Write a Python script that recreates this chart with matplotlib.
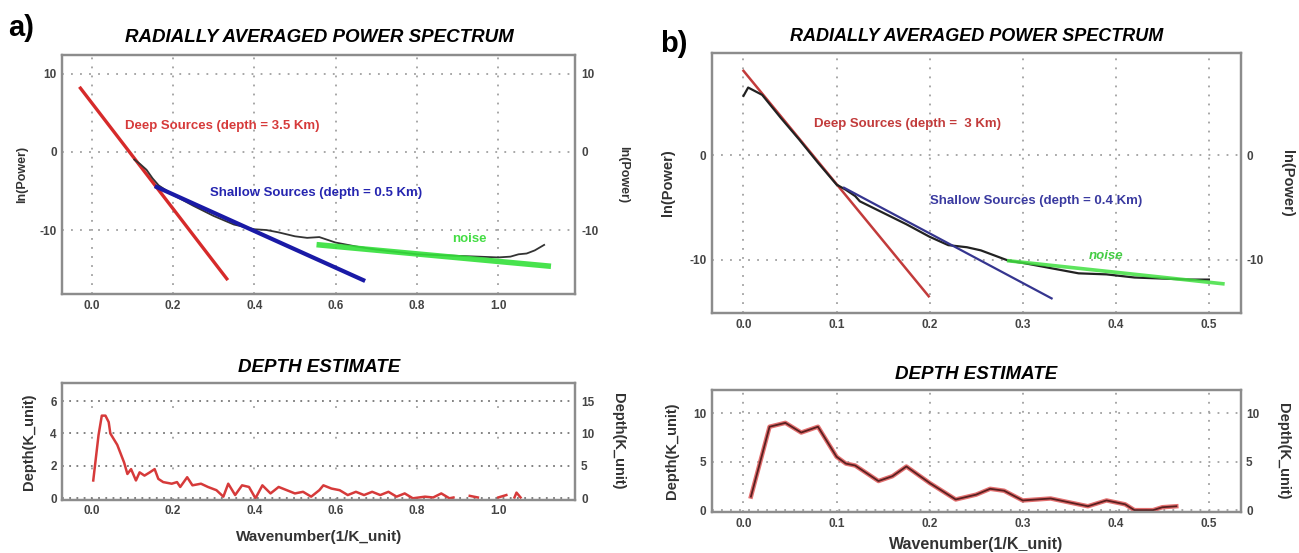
import numpy as np
import matplotlib
matplotlib.use("Agg")
import matplotlib.pyplot as plt

plt.rcParams['font.family'] = ['Liberation Sans', 'DejaVu Sans']
plt.rcParams['font.weight'] = 'bold'

# ---------------- data: panel a ----------------
a_obs_k = [0.105, 0.12, 0.135, 0.15, 0.165, 0.2, 0.25, 0.3, 0.35, 0.4, 0.43, 0.46, 0.5,
           0.53, 0.56, 0.6, 0.65, 0.7, 0.75, 0.8, 0.85, 0.9, 0.95, 1.0, 1.03, 1.05,
           1.07, 1.09, 1.113]
a_obs_p = [-1.0, -1.6, -2.3, -3.4, -4.3, -5.5, -6.9, -8.2, -9.3, -9.9, -10.0, -10.3, -10.8,
           -11.0, -10.9, -11.6, -12.1, -12.5, -12.8, -13.1, -13.2, -13.3, -13.4, -13.5,
           -13.4, -13.1, -13.0, -12.6, -11.9]
a_deep_k = [-0.03, 0.335]
a_deep_p = [8.3, -16.4]
a_shallow_k = [0.16, 0.668]
a_shallow_p = [-4.5, -16.4]
a_noise_k = [0.56, 1.123]
a_noise_p = [-11.9, -14.6]

a_depth_k = [0.004, 0.017, 0.025, 0.034, 0.042, 0.046, 0.063, 0.08, 0.088, 0.097, 0.109,
             0.118, 0.13, 0.143, 0.155, 0.164, 0.176, 0.197, 0.21, 0.218, 0.235, 0.248,
             0.269, 0.286, 0.307, 0.324, 0.336, 0.353, 0.37, 0.387, 0.403, 0.42, 0.44,
             0.46, 0.48, 0.5, 0.52, 0.54, 0.56, 0.57, 0.59, 0.61, 0.63, 0.65, 0.67, 0.69,
             0.71, 0.73, 0.75, 0.77, 0.79, 0.82, 0.84, 0.86, 0.88, 0.89, 0.90,
             0.93, 0.95, 0.96, 1.0, 1.02, 1.03, 1.04, 1.045, 1.055]
a_depth_d = [1.1, 3.9, 5.1, 5.1, 4.7, 4.0, 3.3, 2.2, 1.5, 1.8, 1.1,
             1.6, 1.4, 1.6, 1.8, 1.2, 1.0, 0.9, 1.0, 0.7, 1.3, 0.8,
             0.9, 0.7, 0.5, 0.1, 0.9, 0.2, 0.8, 0.7, 0.0, 0.8, 0.3,
             0.7, 0.5, 0.3, 0.4, 0.1, 0.5, 0.8, 0.6, 0.5, 0.2, 0.4, 0.2, 0.4,
             0.2, 0.4, 0.1, 0.3, 0.0, 0.1, 0.05, 0.3, 0.0, 0.05, np.nan,
             0.15, 0.05, np.nan, 0.05, 0.2, np.nan, 0.05, 0.35, 0.05]

# ---------------- data: panel b ----------------
b_obs_k = [0.0, 0.005, 0.02, 0.04, 0.06, 0.08, 0.1, 0.11, 0.12, 0.125, 0.15, 0.175, 0.2,
           0.22, 0.24, 0.255, 0.27, 0.285, 0.3, 0.33, 0.36, 0.39, 0.42, 0.45, 0.48, 0.5]
b_obs_p = [5.7, 6.5, 5.8, 3.6, 1.5, -0.7, -2.8, -3.3, -3.9, -4.4, -5.5, -6.6, -7.8,
           -8.6, -8.8, -9.1, -9.6, -10.1, -10.3, -10.8, -11.3, -11.4, -11.7, -11.8,
           -11.9, -11.9]
b_deep_k = [0.0, 0.199]
b_deep_p = [8.1, -13.5]
b_shallow_k = [0.108, 0.331]
b_shallow_p = [-3.1, -13.7]
b_noise_k = [0.285, 0.515]
b_noise_p = [-10.1, -12.3]

b_depth_k = [0.008, 0.028, 0.045, 0.062, 0.08, 0.1, 0.11, 0.12, 0.145, 0.16, 0.175, 0.2,
             0.228, 0.25, 0.265, 0.28, 0.3, 0.33, 0.35, 0.37, 0.39, 0.41, 0.42, 0.44,
             0.45, 0.465]
b_depth_d = [1.4, 8.6, 9.0, 8.0, 8.6, 5.5, 4.8, 4.6, 3.0, 3.5, 4.5, 2.8,
             1.1, 1.6, 2.2, 2.0, 1.0, 1.2, 0.8, 0.4, 1.0, 0.6, 0.0, 0.0,
             0.3, 0.4]

# ---------------- styling helpers ----------------
SPINE = '#8c8c8c'
TICK = '#444444'
GRID = '#a0a0a0'
LABEL = '#333333'


def style(ax):
    for s in ax.spines.values():
        s.set_color(SPINE)
        s.set_linewidth(1.6)
    ax.tick_params(length=0, labelsize=8.5, labelcolor=TICK, pad=4)
    for lab in ax.get_xticklabels() + ax.get_yticklabels():
        lab.set_fontweight('bold')


def grid(ax, xdots=(0, (1, 4)), ydots=(0, (1, 4)), ycol=GRID):
    ax.xaxis.grid(True, color=GRID, linestyle=xdots, linewidth=1.3)
    ax.yaxis.grid(True, color=ycol, linestyle=ydots, linewidth=1.3)
    ax.set_axisbelow(True)


def right_axis(ax, ticks, labels, label, size, scale=1.0):
    r = ax.twinx()
    lo, hi = ax.get_ylim()
    r.set_ylim(lo * scale, hi * scale)
    r.set_yticks(ticks)
    r.set_yticklabels(labels)
    style(r)
    r.set_ylabel(label, rotation=270, labelpad=22, fontsize=size, color=LABEL,
                 fontweight='bold')
    return r


fig = plt.figure(figsize=(12.99, 5.53), dpi=100)

# ================= panel a, spectrum =================
ax1 = fig.add_axes([0.048, 0.468, 0.395, 0.433])
ax1.plot(a_deep_k, a_deep_p, color='#d62a2a', lw=2.4, solid_capstyle='butt')
ax1.plot(a_obs_k, a_obs_p, color='#333333', lw=1.3)
ax1.plot(a_shallow_k, a_shallow_p, color='#1a1aa6', lw=3.0)
ax1.plot(a_noise_k, a_noise_p, color='#33e03a', lw=4.0, alpha=0.9)
ax1.set_xlim(-0.072, 1.19)
ax1.set_ylim(-18.2, 12.4)
ax1.set_xticks([0.0, 0.2, 0.4, 0.6, 0.8, 1.0])
ax1.set_xticklabels(['0.0', '0.2', '0.4', '0.6', '0.8', '1.0'])
ax1.set_yticks([-10, 0, 10])
ax1.set_yticklabels(['-10', '0', '10'])
grid(ax1)
style(ax1)
ax1.set_ylabel('ln(Power)', fontsize=9, color=LABEL, fontweight='bold', labelpad=8)
right_axis(ax1, [-10, 0, 10], ['-10', '0', '10'], 'ln(Power)', 9)
ax1.text(0.082, 3.3, 'Deep Sources (depth = 3.5 Km)', color='#d63a3a', fontsize=9.5,
         fontweight='bold', va='center')
ax1.text(0.29, -5.3, 'Shallow Sources (depth = 0.5 Km)', color='#2525b0', fontsize=9.5,
         fontweight='bold', va='center')
ax1.text(0.887, -11.2, 'noise', color='#44dd44', fontsize=9.5, fontweight='bold',
         va='center')
ax1.set_title('RADIALLY AVERAGED POWER SPECTRUM', fontsize=13.5, fontweight='bold',
              style='italic', pad=9)

# ================= panel a, depth =================
ax2 = fig.add_axes([0.048, 0.096, 0.395, 0.211])
ax2.plot(a_depth_k, a_depth_d, color='#d63a3a', lw=1.8)
ax2.set_xlim(-0.072, 1.19)
ax2.set_ylim(-0.1, 7.1)
ax2.set_xticks([0.0, 0.2, 0.4, 0.6, 0.8, 1.0])
ax2.set_xticklabels(['0.0', '0.2', '0.4', '0.6', '0.8', '1.0'])
ax2.set_yticks([0, 2, 4, 6])
ax2.set_yticklabels(['0', '2', '4', '6'])
grid(ax2, xdots=(0, (1, 16)), ydots=(0, (1, 3)), ycol='#777777')
style(ax2)
ax2.set_ylabel('Depth(K_unit)', fontsize=10.5, color=LABEL, fontweight='bold',
               labelpad=10)
ax2.set_xlabel('Wavenumber(1/K_unit)', fontsize=11, color=LABEL,
               fontweight='bold', labelpad=9)
right_axis(ax2, [0, 5, 10, 15], ['0', '5', '10', '15'], 'Depth(K_unit)', 10.5,
           scale=2.5)
ax2.set_title('DEPTH ESTIMATE', fontsize=13.5, fontweight='bold', style='italic', pad=8)

# ================= panel b, spectrum =================
ax3 = fig.add_axes([0.548, 0.434, 0.407, 0.470])
ax3.plot(b_deep_k, b_deep_p, color='#c23b3b', lw=1.8)
ax3.plot(b_obs_k, b_obs_p, color='#222222', lw=1.6)
ax3.plot(b_shallow_k, b_shallow_p, color='#35358f', lw=1.6)
ax3.plot(b_noise_k, b_noise_p, color='#40e040', lw=2.6, alpha=0.85)
ax3.set_xlim(-0.034, 0.534)
ax3.set_ylim(-15.1, 9.8)
ax3.set_xticks([0.0, 0.1, 0.2, 0.3, 0.4, 0.5])
ax3.set_xticklabels(['0.0', '0.1', '0.2', '0.3', '0.4', '0.5'])
ax3.set_yticks([-10, 0])
ax3.set_yticklabels(['-10', '0'])
grid(ax3)
style(ax3)
ax3.set_ylabel('ln(Power)', fontsize=10.5, color=LABEL, fontweight='bold', labelpad=10)
right_axis(ax3, [-10, 0], ['-10', '0'], 'ln(Power)', 10.5)
ax3.text(0.076, 3.0, 'Deep Sources (depth =  3 Km)', color='#c23b3b', fontsize=9.5,
         fontweight='bold', va='center')
ax3.text(0.2, -4.4, 'Shallow Sources (depth = 0.4 Km)', color='#3a3aa0', fontsize=9.5,
         fontweight='bold', va='center')
ax3.text(0.371, -9.6, 'noise', color='#44cc44', fontsize=9.5, fontweight='bold',
         style='italic', va='center')
ax3.set_title('RADIALLY AVERAGED POWER SPECTRUM', fontsize=13, fontweight='bold',
              style='italic', pad=9)

# ================= panel b, depth =================
ax4 = fig.add_axes([0.548, 0.074, 0.407, 0.221])
ax4.plot(b_depth_k, b_depth_d, color='#e06060', lw=3.2, alpha=0.9)
ax4.plot(b_depth_k, b_depth_d, color='#5a2020', lw=1.3)
ax4.set_xlim(-0.034, 0.534)
ax4.set_ylim(-0.2, 12.4)
ax4.set_xticks([0.0, 0.1, 0.2, 0.3, 0.4, 0.5])
ax4.set_xticklabels(['0.0', '0.1', '0.2', '0.3', '0.4', '0.5'])
ax4.set_yticks([0, 5, 10])
ax4.set_yticklabels(['0', '5', '10'])
grid(ax4)
style(ax4)
ax4.set_ylabel('Depth(K_unit)', fontsize=10.5, color=LABEL, fontweight='bold',
               labelpad=10)
ax4.set_xlabel('Wavenumber(1/K_unit)', fontsize=11.5, color=LABEL,
               fontweight='bold', labelpad=5)
right_axis(ax4, [0, 5, 10], ['0', '5', '10'], 'Depth(K_unit)', 10.5)
ax4.set_title('DEPTH ESTIMATE', fontsize=13.5, fontweight='bold', style='italic', pad=8)

fig.text(0.006, 0.975, 'a)', fontsize=21, fontweight='bold', va='top')
fig.text(0.508, 0.945, 'b)', fontsize=21, fontweight='bold', va='top')

fig.savefig('out.png', dpi=100)
